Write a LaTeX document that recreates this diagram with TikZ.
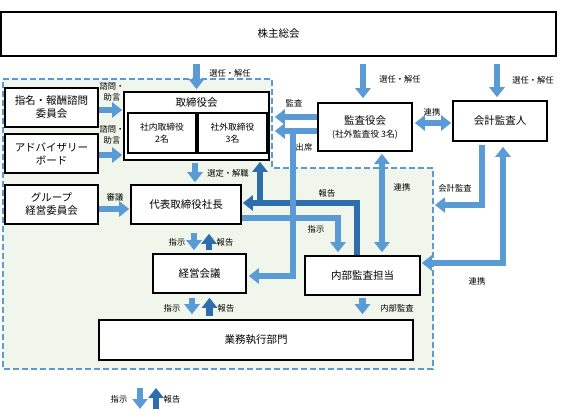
\documentclass[tikz,border=0pt]{standalone}
\usepackage{fontspec}
\setmainfont{Noto Sans CJK JP}
\usetikzlibrary{arrows.meta}
\definecolor{lb}{RGB}{91,155,213}
\definecolor{db}{RGB}{46,110,172}
\definecolor{rg}{RGB}{240,246,235}
\newcommand\mybigfont{\fontsize{10.5pt}{13pt}\selectfont}
\newcommand\mymidfont{\fontsize{8.8pt}{12pt}\selectfont}
\newcommand\mylabfont{\fontsize{8.3pt}{11pt}\selectfont}
\begin{document}
\begin{tikzpicture}[x=1pt,y=-1pt,
  box/.style={draw=black, line width=1.6pt, fill=white, inner sep=0pt, align=center, font=\mybigfont},
  ibox/.style={draw=black, line width=1.6pt, fill=white, inner sep=0pt, align=center, font=\mymidfont},
  lab/.style={inner sep=0pt, align=center, font=\mylabfont},
  txt/.style={inner sep=0pt, align=center},
  la/.style={draw=lb, line width=6.5pt, line join=miter, -{Triangle[width=15pt,length=10pt]}},
  da/.style={draw=db, line width=6.5pt, line join=miter, -{Triangle[width=15pt,length=10pt]}},
  lab2/.style={draw=lb, line width=6.5pt, line join=miter, {Triangle[width=15pt,length=10pt]}-{Triangle[width=15pt,length=10pt]}},
  region/.style={draw=lb, fill=rg, line width=1.8pt, dash pattern=on 6pt off 3pt}
]
\useasboundingbox (0,0) rectangle (579,420);

% dashed region
\draw[region] (3,79) -- (272,79) -- (272,168) -- (433,168) -- (433,369) -- (3,369) -- cycle;

% boxes
\node[box, minimum width=555pt, minimum height=44pt] (kabu) at (278.5,34) {株主総会};
\node[box, minimum width=93pt, minimum height=39pt] (shimei) at (51.5,107.5) {指名・報酬諮問\\委員会};
\node[box, minimum width=93pt, minimum height=39pt] (adv) at (51.5,153.5) {アドバイザリー\\ボード};
\node[box, minimum width=93pt, minimum height=39pt] (group) at (51.5,204.5) {グループ\\経営委員会};
\node[box, minimum width=145pt, minimum height=68pt] (tori) at (196.5,126) {};
\node[txt, font=\mybigfont] (torititle) at (196.5,103) {取締役会};
\node[ibox, minimum width=68pt, minimum height=40pt] (shanai) at (162,133) {社内取締役\\2名};
\node[ibox, minimum width=69pt, minimum height=40pt] (shagai) at (232.5,133) {社外取締役\\3名};
\node[box, minimum width=110pt, minimum height=39pt] (daihyo) at (186,204.5) {代表取締役社長};
\node[box, minimum width=94pt, minimum height=48pt] (kansa) at (365,127) {監査役会\\{\mymidfont (社外監査役 3名)}};
\node[box, minimum width=94pt, minimum height=40pt] (kaikei) at (500,121) {会計監査人};
\node[box, minimum width=93pt, minimum height=39pt] (keiei) at (199.5,273.5) {経営会議};
\node[box, minimum width=115pt, minimum height=39pt] (naibu) at (362.5,275.5) {内部監査担当};
\node[box, minimum width=314pt, minimum height=40pt] (gyomu) at (256,340) {業務執行部門};

% shareholders arrows
\draw[la, shorten <=7pt, shorten >=2pt] (tori.north |- kabu.south) -- (tori.north);
\draw[la, shorten <=7pt, shorten >=4pt] ([xshift=-2pt]kansa.north |- kabu.south) -- ([xshift=-2pt]kansa.north);
\draw[la, shorten <=7pt, shorten >=3pt] ([xshift=-3pt]kaikei.north |- kabu.south) -- ([xshift=-3pt]kaikei.north);
\node[lab] (l1) at (230,73) {選任・解任};
\node[lab] (l2) at (400,79) {選任・解任};
\node[lab] (l3) at (533,80) {選任・解任};

% advisory arrows
\draw[la, shorten >=1pt] ([yshift=-2.5pt]shimei.east) -- ([yshift=-2.5pt]shimei.east -| tori.west);
\draw[la, shorten >=1pt] ([yshift=-1.5pt]adv.east) -- ([yshift=-1.5pt]adv.east -| tori.west);
\draw[la, shorten >=1pt] ([yshift=-4.5pt]group.east) -- ([yshift=-4.5pt]group.east -| daihyo.west);
\node[lab] (l4) at (112,92) {諮問・\\助言};
\node[lab] (l5) at (112,135) {諮問・\\助言};
\node[lab] (l6) at (115,197) {審議};

% board -> president
\draw[la, shorten <=2pt, shorten >=2pt] ([xshift=-1.5pt]tori.south) -- ([xshift=-1.5pt]tori.south |- daihyo.north);
\node[lab] (l7) at (228,173) {選定・解職};

% report (dark)
\coordinate (hb) at (260,203);
\draw[da, shorten >=1pt] ([xshift=-5.5pt]naibu.north) |- ([yshift=1.5pt]daihyo.east);
\draw[da, shorten >=1pt] (hb) -- (hb |- tori.south);
\node[lab] (l8) at (327,193) {報告};

% instruction president -> internal audit
\draw[la, shorten >=3pt] ([yshift=-13.5pt]daihyo.east) -| ([xshift=-24.5pt]naibu.north);
\node[lab] (l9) at (316,229) {指示};

% audit / attendance from kansayaku
\draw[la, shorten >=5pt] ([yshift=10pt]kansa.west) -- ([yshift=10pt]kansa.west -| tori.east);
\node[lab] (l10) at (294,103) {監査};
\draw[la, shorten >=5pt] ([yshift=-4pt]kansa.west) -- ([yshift=-4pt]kansa.west -| tori.east);
\coordinate (shusseki) at (293,131);
\draw[la, shorten >=2pt] (shusseki) |- ([yshift=-2.5pt]keiei.east);
\node[lab] (l11) at (304,147) {出席};

% cooperation
\draw[lab2, shorten <=2pt, shorten >=1pt] ([yshift=4pt]kansa.east) -- ([yshift=4pt]kansa.east -| kaikei.west);
\node[lab] (l12) at (432,112) {連携};
\draw[lab2, shorten <=2pt, shorten >=3pt] ([xshift=17pt]kansa.south) -- ([xshift=17pt]kansa.south |- naibu.north);
\node[lab] (l13) at (402,187) {連携};
\draw[lab2, shorten <=1pt, shorten >=5pt] ([yshift=12.5pt]naibu.east) -| ([xshift=3pt]kaikei.south);
\node[lab] (l14) at (477,281) {連携};

% accounting audit
\coordinate (kaikeiT) at (435,205);
\draw[la, shorten <=3pt] ([xshift=-18pt]kaikei.south) |- (kaikeiT);
\node[lab] (l15) at (455,188) {会計監査};

% president <-> management meeting
\draw[la, shorten <=8pt, shorten >=3pt] ([xshift=8pt]daihyo.south) -- ([xshift=8pt]daihyo.south |- keiei.north);
\draw[da, shorten <=3pt, shorten >=9pt] ([xshift=23pt]daihyo.south |- keiei.north) -- ([xshift=23pt]daihyo.south);
\node[lab] (l16) at (177,242) {指示};
\node[lab] (l17) at (225,242) {報告};

% management meeting <-> business
\draw[la, shorten <=4pt, shorten >=5pt] ([xshift=-7.5pt]keiei.south) -- ([xshift=-7.5pt]keiei.south |- gyomu.north);
\draw[da, shorten <=3pt, shorten >=4pt] ([xshift=10pt]keiei.south |- gyomu.north) -- ([xshift=10pt]keiei.south);
\node[lab] (l18) at (172,308) {指示};
\node[lab] (l19) at (226,308) {報告};

% internal audit -> business
\draw[la, shorten <=2pt, shorten >=5pt] (naibu.south) -- (naibu.south |- gyomu.north);
\node[lab] (l20) at (397,308) {内部監査};

% legend
\coordinate (lg1a) at (140,388);
\coordinate (lg1b) at (140,409);
\coordinate (lg2a) at (156,409);
\coordinate (lg2b) at (156,388);
\draw[la] (lg1a) -- (lg1b);
\draw[da] (lg2a) -- (lg2b);
\node[lab] (l21) at (119,399) {指示};
\node[lab] (l22) at (172,399) {報告};
\end{tikzpicture}
\end{document}
